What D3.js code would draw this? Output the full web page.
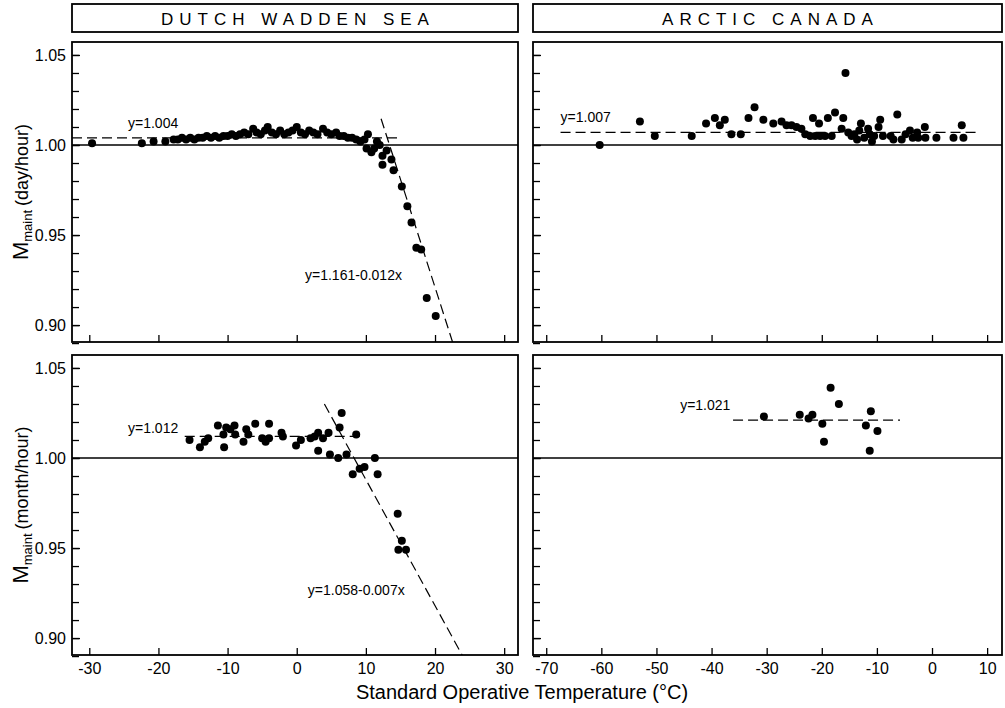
<!DOCTYPE html>
<html>
<head>
<meta charset="utf-8">
<script src="https://cdn.jsdelivr.net/npm/d3@7"></script>
<style>
  body { margin: 0; background: #fff; }
  svg { font-family: "Liberation Sans", Arial, sans-serif; }
  .frame { fill: none; stroke: #000; stroke-width: 1.8; }
  .axis path { display: none; }
  .axis line { stroke: #000; stroke-width: 1.3; }
  .axis text { font-size: 16px; fill: #000; }
  .dash { fill: none; stroke: #000; stroke-width: 1.2; stroke-dasharray: 10,5; }
  .ref { stroke: #000; stroke-width: 1.3; }
  .note { font-size: 14px; }
</style>
</head>
<body>
<div id="chart"></div>
<script>

// panel titles and axis labels
var regions = ["DUTCH WADDEN SEA", "ARCTIC CANADA"];
var rowUnits = ["(day/hour)", "(month/hour)"];
var xTitle = "Standard Operative Temperature (\u00b0C)";

// tick values
var yMajor = [0.90, 0.95, 1.00, 1.05];
var yMinor = d3.range(0.89, 1.0551, 0.01);
var xTicksDws = [-30, -20, -10, 0, 10, 20, 30];
var xTicksArc = [-70, -60, -50, -40, -30, -20, -10, 0, 10];

// Dutch Wadden Sea, day/hour : [temperature, Mmaint]
var dwsDay = [
  [-29.6,1.001],[-22.4,1.001],[-20.7,1.002],[-19.0,1.002],[-17.8,1.003],[-17.2,1.003],
  [-16.6,1.004],[-16.0,1.003],[-15.4,1.004],[-14.8,1.003],[-14.2,1.004],[-13.6,1.004],
  [-13.0,1.005],[-12.4,1.004],[-11.8,1.005],[-11.2,1.004],[-10.6,1.005],[-10.0,1.005],
  [-9.4,1.006],[-8.8,1.005],[-8.2,1.006],[-7.6,1.007],[-7.0,1.006],[-6.3,1.009],
  [-5.8,1.007],[-5.2,1.006],[-4.6,1.008],[-4.2,1.010],[-3.6,1.007],[-3.0,1.006],
  [-2.4,1.008],[-1.8,1.006],[-1.2,1.007],[-0.6,1.008],[0.0,1.010],[0.6,1.007],
  [1.2,1.006],[1.8,1.008],[2.4,1.007],[3.0,1.006],[3.8,1.009],[4.4,1.007],
  [5.0,1.006],[5.7,1.007],[6.2,1.005],[6.8,1.005],[7.4,1.004],[8.0,1.004],
  [8.6,1.003],[9.2,1.002],[9.8,1.003],[10.1,0.998],[10.3,1.006],[10.8,0.996],
  [11.2,0.998],[11.6,1.002],[12.0,1.000],[12.4,0.994],[12.4,0.989],[13.0,0.997],
  [13.7,0.992],[14.0,0.986],[15.2,0.977],[16.0,0.966],[16.6,0.957],[17.3,0.943],
  [18.0,0.942],[18.8,0.915],[20.1,0.905]
];

// Arctic Canada, day/hour
var arcDay = [
  [-60.3,1.000],[-53.0,1.013],[-50.3,1.005],[-43.6,1.005],[-41.0,1.012],[-39.4,1.015],
  [-38.5,1.011],[-37.6,1.014],[-36.4,1.006],[-34.7,1.006],[-33.3,1.015],[-32.2,1.021],
  [-30.6,1.014],[-28.8,1.012],[-27.3,1.013],[-26.4,1.011],[-25.5,1.011],[-24.6,1.010],
  [-23.7,1.009],[-23.0,1.006],[-22.1,1.005],[-21.6,1.015],[-21.2,1.005],[-20.5,1.012],
  [-20.3,1.005],[-19.4,1.005],[-18.9,1.015],[-18.2,1.005],[-17.6,1.018],[-16.4,1.009],
  [-16.1,1.015],[-15.7,1.040],[-15.2,1.007],[-14.6,1.005],[-14.1,1.006],[-13.6,1.003],
  [-13.2,1.008],[-12.9,1.012],[-12.3,1.004],[-11.6,1.009],[-11.3,1.006],[-10.9,1.002],
  [-10.5,1.005],[-9.7,1.010],[-9.4,1.014],[-8.9,1.005],[-7.5,1.005],[-7.0,1.003],
  [-6.3,1.017],[-5.5,1.003],[-4.8,1.006],[-4.0,1.008],[-3.5,1.004],[-2.7,1.007],
  [-2.5,1.004],[-1.3,1.010],[-1.2,1.004],[0.8,1.004],[3.9,1.004],[5.4,1.011],[5.7,1.004]
];

// Dutch Wadden Sea, month/hour
var dwsMonth = [
  [-15.5,1.010],[-14.0,1.006],[-13.3,1.009],[-12.8,1.011],[-11.4,1.018],[-10.6,1.013],
  [-10.5,1.006],[-10.2,1.017],[-9.6,1.016],[-9.0,1.018],[-8.9,1.013],[-7.7,1.009],
  [-7.3,1.016],[-7.0,1.013],[-6.0,1.019],[-5.0,1.011],[-4.5,1.009],[-4.0,1.011],
  [-4.0,1.019],[-2.2,1.014],[-2.0,1.012],[-0.1,1.007],[0.6,1.010],[2.0,1.011],
  [2.6,1.012],[3.1,1.014],[3.1,1.004],[3.8,1.011],[4.6,1.014],[4.8,1.002],
  [6.0,1.000],[6.2,1.017],[6.5,1.025],[7.2,1.002],[8.6,1.013],[8.1,0.991],
  [9.1,0.994],[9.8,0.995],[11.3,1.000],[11.7,0.991],[14.6,0.969],[14.7,0.949],
  [15.2,0.954],[15.8,0.949]
];

// Arctic Canada, month/hour
var arcMonth = [
  [-30.5,1.023],[-24.0,1.024],[-22.4,1.022],[-21.7,1.024],[-19.9,1.019],[-19.6,1.009],
  [-18.4,1.039],[-16.9,1.030],[-11.1,1.026],[-12.0,1.018],[-9.9,1.015],[-11.3,1.004]
];

// fitted lines: intercept a + slope b, with temperature span and label spot
var fits = [
  {panel: 0, a: 1.004, b: 0,      from: -32.5, to: 14.9, label: "y=1.004",         lx: -24.4, ly: 1.0093},
  {panel: 0, a: 1.161, b: -0.012, from: 12.2,  to: 23,   label: "y=1.161-0.012x",  lx: 1.2,   ly: 0.925},
  {panel: 1, a: 1.007, b: 0,      from: -67.4, to: 8.2,  label: "y=1.007",         lx: -67.4, ly: 1.0128},
  {panel: 2, a: 1.012, b: 0,      from: -16.2, to: 9.8,  label: "y=1.012",         lx: -24.4, ly: 1.0139},
  {panel: 2, a: 1.058, b: -0.007, from: 4.0,   to: 24,   label: "y=1.058-0.007x",  lx: 1.6,   ly: 0.9239},
  {panel: 3, a: 1.021, b: 0,      from: -36.1, to: -5.8, label: "y=1.021",         lx: -45.7, ly: 1.0267}
];

var W = 1005, H = 708;
var cols = [{x0: 72, x1: 518}, {x0: 533, x1: 1002}];
var rows = [{y0: 42, y1: 342}, {y0: 355, y1: 655}];

var xScales = [
  d3.scaleLinear().domain([-32.5, 32]).range([cols[0].x0, cols[0].x1]),
  d3.scaleLinear().domain([-72.4, 12.7]).range([cols[1].x0, cols[1].x1])
];
var yScales = rows.map(function(r) {
  return d3.scaleLinear().domain([0.8906, 1.0572]).range([r.y1, r.y0]);
});

var panels = [
  {col: 0, row: 0, data: dwsDay},
  {col: 1, row: 0, data: arcDay},
  {col: 0, row: 1, data: dwsMonth},
  {col: 1, row: 1, data: arcMonth}
];
var xTicks = [xTicksDws, xTicksArc];

var svg = d3.select("#chart").append("svg")
    .attr("width", W)
    .attr("height", H);

// header boxes
cols.forEach(function(c, i) {
  svg.append("rect").attr("class", "frame")
      .attr("x", c.x0).attr("y", 4)
      .attr("width", c.x1 - c.x0).attr("height", 28);
  svg.append("text")
      .attr("x", (c.x0 + c.x1) / 2 + 3)
      .attr("y", 25)
      .attr("text-anchor", "middle")
      .style("font-size", "17px")
      .style("letter-spacing", "6px")
      .text(regions[i]);
});

panels.forEach(function(p, i) {
  var x = xScales[p.col], y = yScales[p.row];
  var c = cols[p.col], r = rows[p.row];
  var g = svg.append("g");

  g.append("clipPath").attr("id", "clip" + i)
    .append("rect")
      .attr("x", c.x0).attr("y", r.y0)
      .attr("width", c.x1 - c.x0).attr("height", r.y1 - r.y0);

  // reference line at 1.00
  g.append("line").attr("class", "ref")
      .attr("x1", c.x0).attr("x2", c.x1)
      .attr("y1", y(1)).attr("y2", y(1));

  // minor y ticks (inward)
  g.append("g").attr("class", "axis")
      .attr("transform", "translate(" + c.x0 + ",0)")
      .call(d3.axisRight(y).tickValues(yMinor).tickSize(7).tickFormat(""));

  // major y ticks, labelled on the left column only
  var yAx = d3.axisLeft(y).tickValues(yMajor).tickSizeInner(-8).tickSizeOuter(0).tickPadding(6)
      .tickFormat(p.col === 0 ? d3.format(".2f") : "");
  g.append("g").attr("class", "axis")
      .attr("transform", "translate(" + c.x0 + ",0)")
      .call(yAx);

  // x ticks (inward), labelled on the bottom row only, plain hyphen minus
  var xAx = d3.axisBottom(x).tickValues(xTicks[p.col]).tickSizeInner(-7).tickSizeOuter(0).tickPadding(8)
      .tickFormat(p.row === 1 ? function(d) { return String(d); } : "");
  g.append("g").attr("class", "axis")
      .attr("transform", "translate(0," + r.y1 + ")")
      .call(xAx);

  // fitted lines
  var plot = g.append("g").attr("clip-path", "url(#clip" + i + ")");
  fits.filter(function(f) { return f.panel === i; }).forEach(function(f) {
    plot.append("line").attr("class", "dash")
        .attr("x1", x(f.from)).attr("y1", y(f.a + f.b * f.from))
        .attr("x2", x(f.to)).attr("y2", y(f.a + f.b * f.to));
    g.append("text").attr("class", "note")
        .attr("x", x(f.lx)).attr("y", y(f.ly))
        .text(f.label);
  });

  // points
  plot.selectAll("circle")
      .data(p.data)
    .enter().append("circle")
      .attr("cx", function(d) { return x(d[0]); })
      .attr("cy", function(d) { return y(d[1]); })
      .attr("r", 4)
      .attr("fill", "#000");

  // frame
  g.append("rect").attr("class", "frame")
      .attr("x", c.x0).attr("y", r.y0)
      .attr("width", c.x1 - c.x0).attr("height", r.y1 - r.y0);
});

// y axis titles
rows.forEach(function(r, i) {
  var t = svg.append("text")
      .attr("transform", "translate(28," + ((r.y0 + r.y1) / 2) + ") rotate(-90)")
      .attr("text-anchor", "middle")
      .style("font-size", "18px");
  t.append("tspan").style("font-size", "22px").text("M");
  t.append("tspan").attr("dy", 4).style("font-size", "13px").text("maint");
  t.append("tspan").attr("dy", -4).attr("dx", 4).text(rowUnits[i]);
});

// x axis title
svg.append("text")
    .attr("x", 522)
    .attr("y", 699)
    .attr("text-anchor", "middle")
    .style("font-size", "20px")
    .text(xTitle);

</script>
</body>
</html>
